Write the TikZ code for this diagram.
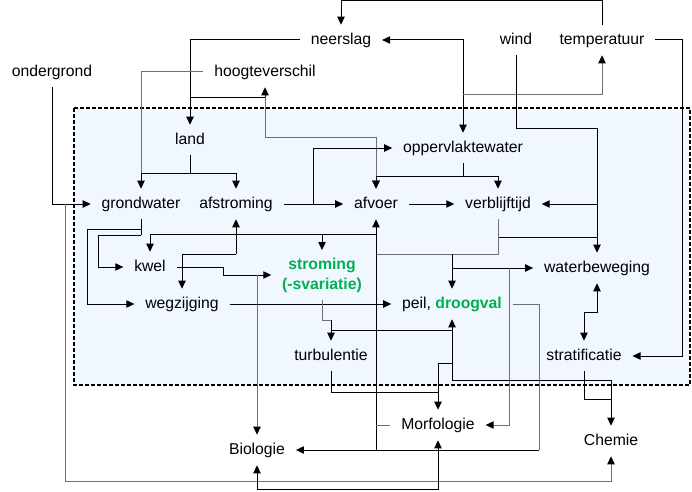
\documentclass[tikz,border=0pt]{standalone}
\usepackage{fontspec}
\setmainfont{Liberation Sans}
\usetikzlibrary{arrows.meta}
\definecolor{boxfill}{HTML}{F0F7FF}
\definecolor{wiregray}{HTML}{707070}
\definecolor{hilite}{HTML}{00B050}

\begin{document}
\begin{tikzpicture}[x=0.75pt, y=-0.75pt,
    every node/.style={font=\fontsize{11.8}{15}\selectfont, inner xsep=8pt, inner ysep=5.5pt, text height=9pt, text depth=2.5pt},
    wire/.style={line width=0.75pt},
    gwire/.style={wire, wiregray},
    arr/.style={wire, -{Triangle[length=6pt, width=5.5pt, color=black]}},
    garr/.style={arr, wiregray},
    darr/.style={wire, {Triangle[length=6pt, width=5.5pt]}-{Triangle[length=6pt, width=5.5pt]}}]
    \useasboundingbox (0,0) rectangle (692,492);
    \draw[fill=boxfill, dash pattern=on 3pt off 1.5pt, line width=1pt] (74,108) rectangle (690,385);

    \node (ondergrond) at (52,72) {ondergrond};
    \node (hoogteverschil) at (265,72) {hoogteverschil};
    \node (neerslag) at (341,40) {neerslag};
    \node (wind) at (516,40) {wind};
    \node (temperatuur) at (602,40) {temperatuur};
    \node (land) at (190,140) {land};
    \node (oppervlaktewater) at (463,148) {oppervlaktewater};
    \node (grondwater) at (141,204) {grondwater};
    \node (afstroming) at (236,204) {afstroming};
    \node (afvoer) at (376,204) {afvoer};
    \node (verblijftijd) at (498,204) {verblijftijd};
    \node (kwel) at (150,267) {kwel};
    \node[align=center, text=hilite, font=\fontsize{11.8}{15}\selectfont\bfseries, text height=, text depth=] (stroming) at (322,275) {stroming\\(-svariatie)};
    \node (waterbeweging) at (597,268) {waterbeweging};
    \node (wegzijging) at (182,304) {wegzijging};
    \node (peil) at (452,304) {peil, \textcolor{hilite}{\bfseries droogval}};
    \node (turbulentie) at (331,356) {turbulentie};
    \node (stratificatie) at (584,356) {stratificatie};
    \node (morfologie) at (438,425) {Morfologie};
    \node (chemie) at (611,441) {Chemie};
    \node (biologie) at (257,450) {Biologie};

    \coordinate (t0) at (341,1);
    \coordinate (r0) at (463,94);
    \coordinate (n0) at (190,97);
    \coordinate (n1) at (265,97);
    \coordinate (n2) at (376,137);
    \coordinate (h0) at (141,173);
    \coordinate (l0) at (190,173);
    \coordinate (o0) at (65,204);
    \coordinate (o1) at (611,481);
    \coordinate (a0) at (313,204);
    \coordinate (w0) at (463,176);
    \coordinate (w1) at (597,128);
    \coordinate (w2) at (597,204);
    \coordinate (v0) at (597,237);
    \coordinate (v1) at (376,254);
    \coordinate (p0) at (452,254);
    \coordinate (p1) at (452,268);
    \coordinate (m0) at (509,268);
    \coordinate (m1) at (376,425);
    \coordinate (b0) at (376,450);
    \coordinate (b1) at (539,450);
    \coordinate (k0) at (376,234);
    \coordinate (s0) at (322,234);
    \coordinate (a1) at (236,254);
    \coordinate (g0) at (141,229);
    \coordinate (g1) at (87,304);
    \coordinate (g2) at (141,235);
    \coordinate (g3) at (98,267);
    \coordinate (k1) at (223,267);
    \coordinate (k2) at (257,275);
    \coordinate (s1) at (331,320);
    \coordinate (s2) at (331,330);
    \coordinate (s3) at (452,330);
    \coordinate (s4) at (452,380);
    \coordinate (s5) at (452,363);
    \coordinate (u0) at (438,392);
    \coordinate (c0) at (611,399);
    \coordinate (x0) at (584,312);
    \coordinate (e0) at (682,356);
    \coordinate (bm) at (438,489);

    \draw[arr] (temperatuur.north) |- (t0) -- (neerslag.north);
    \draw[darr] (neerslag.east) -| (oppervlaktewater.north);
    \draw[garr] (r0) -| (temperatuur.south);
    \draw[arr] (neerslag.west) -| (land.north);
    \draw[arr] (n0) -| (hoogteverschil.south);
    \draw[garr] (n1) |- (n2) -- (afvoer.north);
    \draw[gwire] (hoogteverschil.west) -| (h0);
    \draw[arr] (land.south) -- (l0) -| (grondwater.north);
    \draw[arr] (l0) -| (afstroming.north);
    \draw[arr] (ondergrond.south) |- (grondwater.west);
    \draw[garr] (o0) |- (o1) -- (chemie.south);
    \draw[arr] (afstroming.east) -- (afvoer.west);
    \draw[arr] (a0) |- (oppervlaktewater.west);
    \draw[arr] (oppervlaktewater.south) -- (w0) -| (verblijftijd.north);
    \draw[arr] (w0) -| (afvoer.north);
    \draw[arr] (afvoer.east) -- (verblijftijd.west);
    \draw[arr] (wind.south) |- (w1) -- (waterbeweging.north);
    \draw[arr] (w2) -- (verblijftijd.east);
    \draw[wire] (verblijftijd.south) |- (v0);
    \draw[gwire] (verblijftijd.south) |- (v1);
    \draw[arr] (p0) -- (peil.north);
    \draw[arr] (p1) -- (waterbeweging.west);
    \draw[garr] (m0) |- (morfologie.east);
    \draw[arr] (b0) -- (afvoer.south);
    \draw[gwire] (morfologie.west) -- (m1);
    \draw[gwire] (peil.east) -| (b1);
    \draw[arr] (b1) -- (biologie.east);
    \draw[arr] (k0) -| (kwel.north);
    \draw[arr] (s0) -- (stroming.north);
    \draw[arr] (a1) -- (afstroming.south);
    \draw[arr] (a1) -| (wegzijging.north);
    \draw[wire] (grondwater.south) -- (g2);
    \draw[arr] (g0) -| (g1) -- (wegzijging.west);
    \draw[arr] (g2) -| (g3) -- (kwel.west);
    \draw[arr] (kwel.east) -- (k1) |- (stroming.west);
    \draw[garr] (k2) -- (biologie.north);
    \draw[arr] (wegzijging.east) -- (peil.west);
    \draw[gwire] (stroming.south) |- (s1);
    \draw[arr] (s1) -- (turbulentie.north);
    \draw[wire] (s2) -- (s3);
    \draw[arr] (s4) -- (peil.south);
    \draw[arr] (s5) -| (morfologie.north);
    \draw[arr] (s4) -| (chemie.north);
    \draw[wire] (turbulentie.south) |- (u0);
    \draw[wire] (stratificatie.south) |- (c0);
    \draw[darr] (waterbeweging.south) |- (x0) -- (stratificatie.north);
    \draw[arr] (temperatuur.east) -| (e0) -- (stratificatie.east);
    \draw[darr] (biologie.south) |- (bm) -- (morfologie.south);
\end{tikzpicture}
\end{document}
